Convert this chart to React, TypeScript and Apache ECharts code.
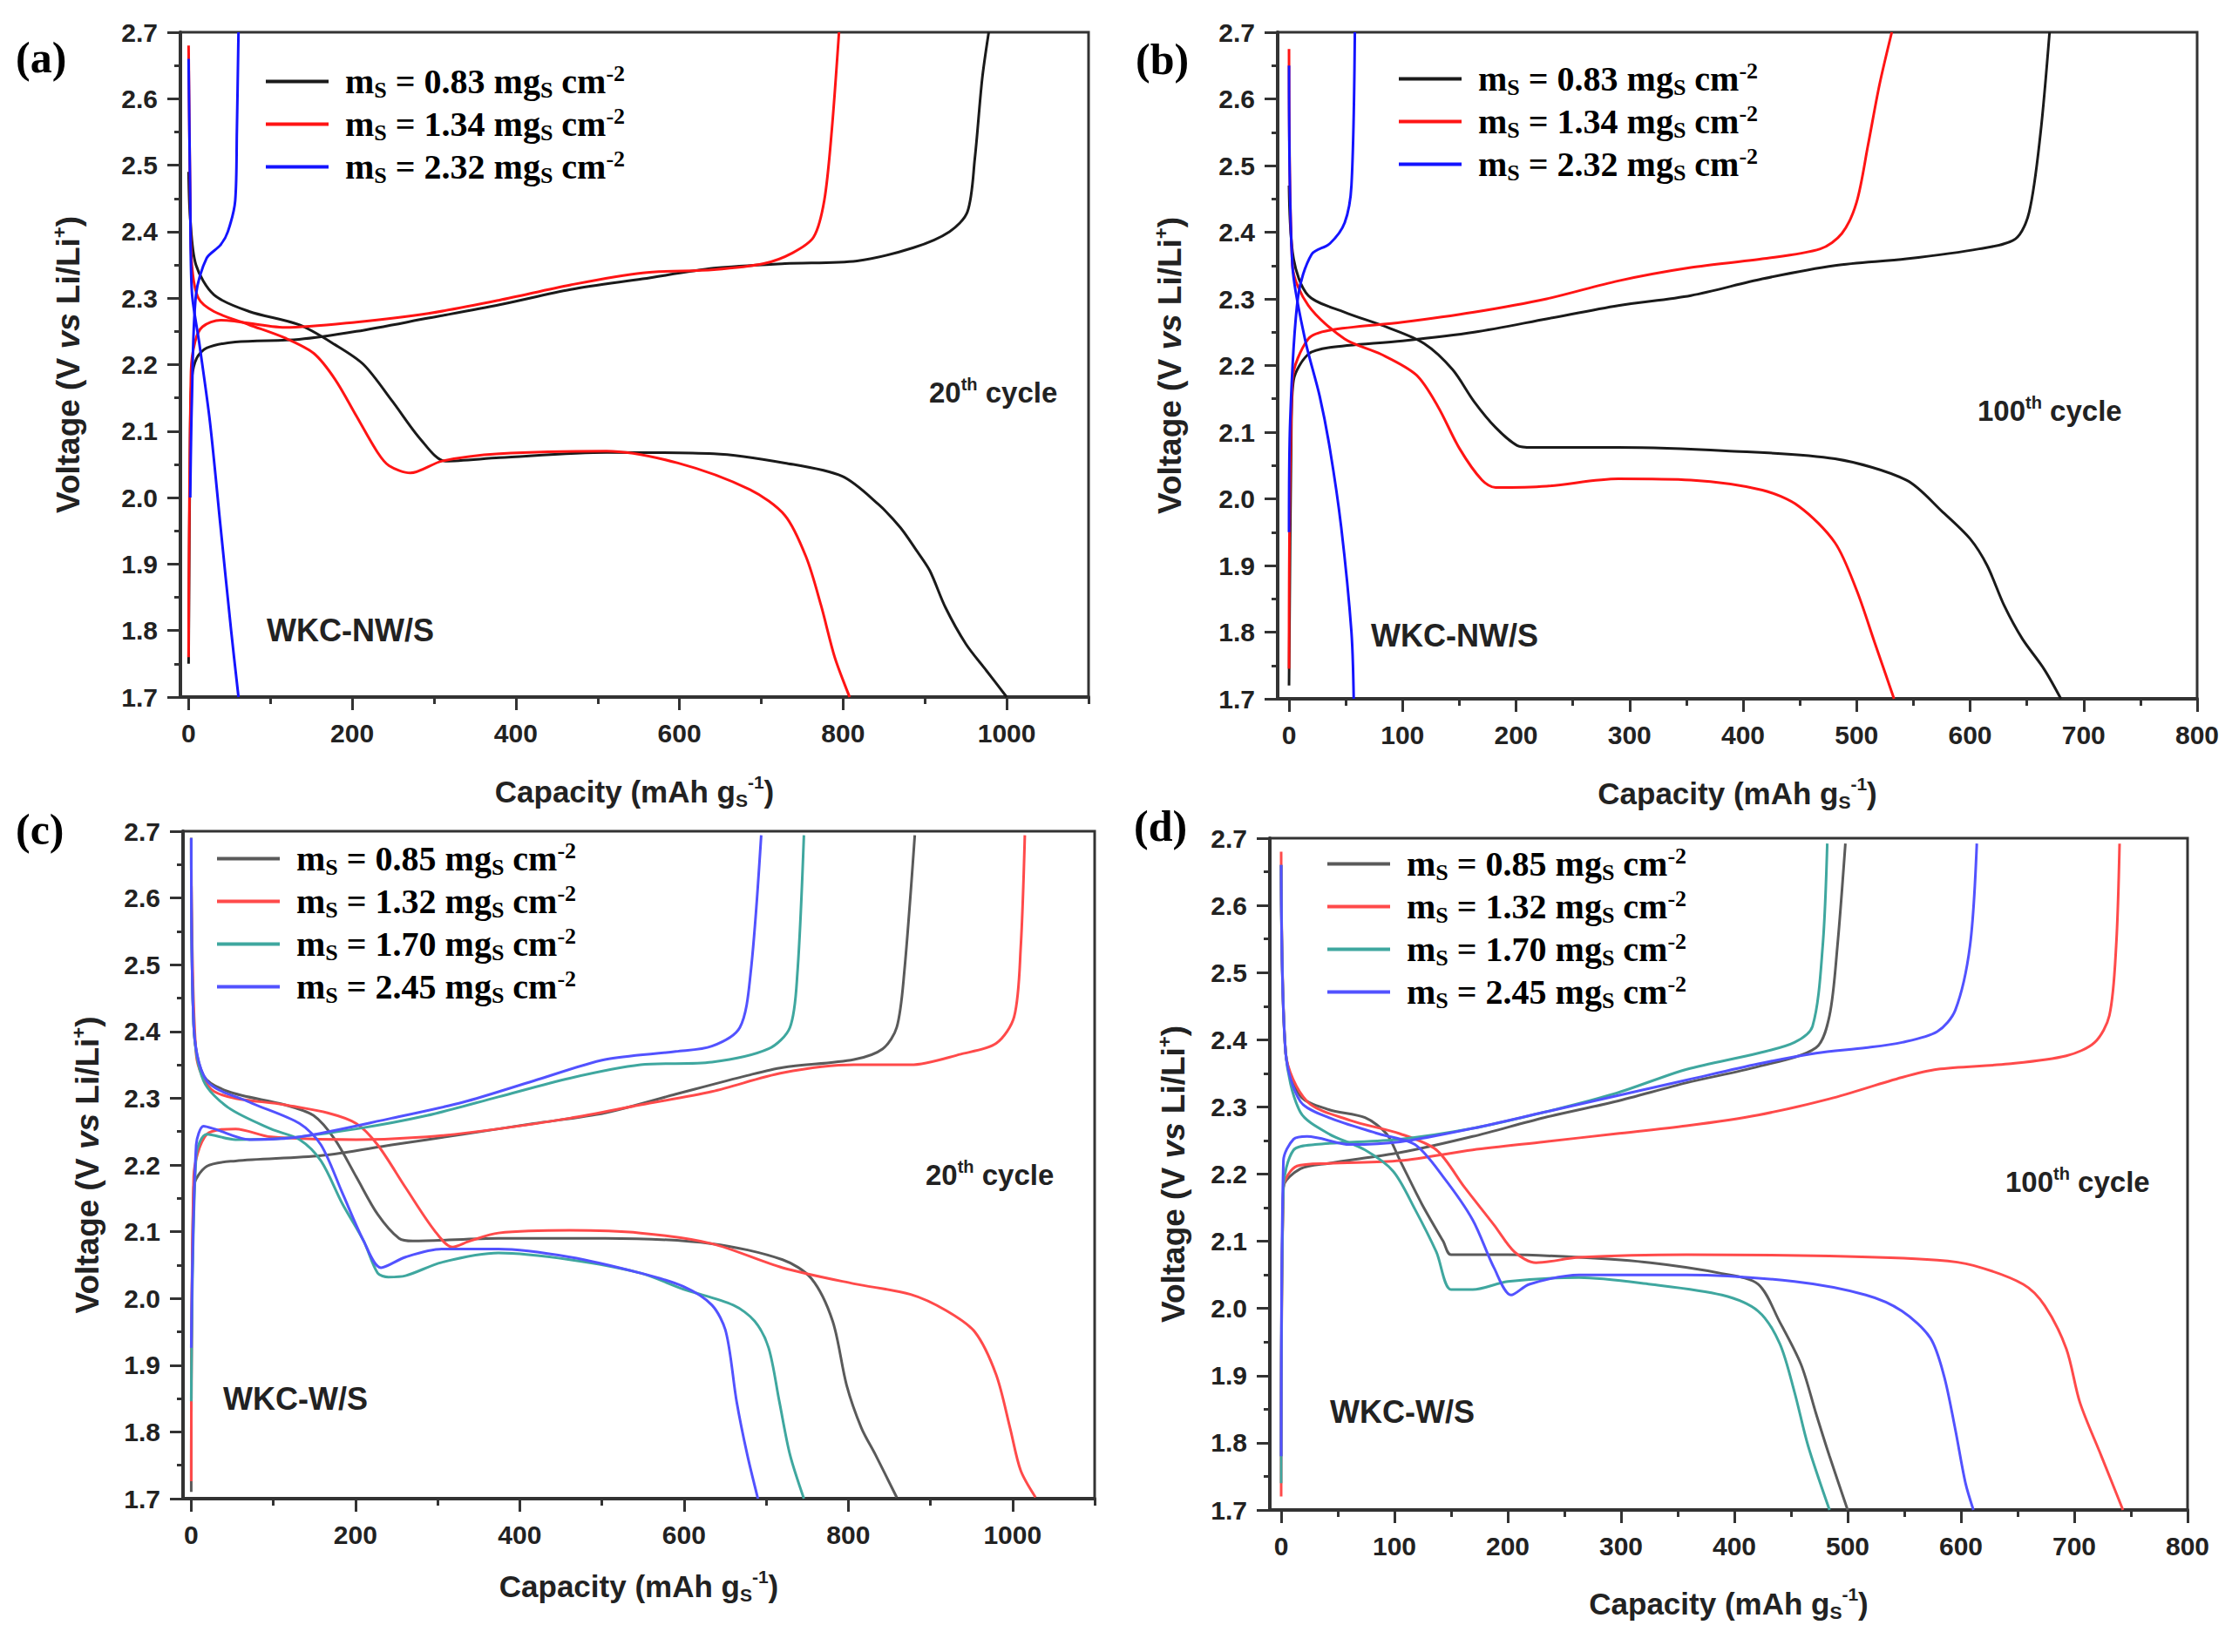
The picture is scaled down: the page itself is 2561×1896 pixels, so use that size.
import { useEffect, useRef } from "react"
import * as echarts from "echarts"

type Pt = [number, number]

// ---------- tick labels ----------
const yTicks = [1.7, 1.8, 1.9, 2.0, 2.1, 2.2, 2.3, 2.4, 2.5, 2.6, 2.7]
const xTicks1000 = [0, 200, 400, 600, 800, 1000]
const xMinor1000 = [100, 300, 500, 700, 900, 1100]
const xTicks800 = [0, 100, 200, 300, 400, 500, 600, 700, 800]
const xMinor800 = [50, 150, 250, 350, 450, 550, 650, 750]

// ---------- sulfur loadings (mg cm-2) ----------
const loadsNW = ["0.83", "1.34", "2.32"]
const loadsW = ["0.85", "1.32", "1.70", "2.45"]

// ---------- (a) WKC-NW/S, 20th cycle ----------
const a083Dis: Pt[] = [[0, 2.49], [2, 2.42], [9, 2.35], [31, 2.305], [74, 2.28], [135, 2.26], [179, 2.23], [214, 2.2], [249, 2.145], [284, 2.087], [314, 2.055], [380, 2.06], [511, 2.068], [642, 2.066], [729, 2.052], [799, 2.032], [843, 1.99], [870, 1.955], [890, 1.92], [906, 1.89], [925, 1.835], [950, 1.78], [975, 1.74], [1000, 1.7]]
const a083Chg: Pt[] = [[0, 1.75], [2, 2.1], [4, 2.18], [10, 2.21], [22, 2.225], [57, 2.234], [135, 2.238], [205, 2.25], [293, 2.27], [380, 2.29], [467, 2.313], [555, 2.329], [642, 2.345], [729, 2.352], [817, 2.356], [886, 2.376], [930, 2.4], [952, 2.43], [961, 2.51], [970, 2.63], [978, 2.7]]
const a134Dis: Pt[] = [[0, 2.68], [2, 2.45], [4, 2.35], [12, 2.3], [31, 2.28], [74, 2.26], [118, 2.24], [153, 2.217], [179, 2.178], [205, 2.123], [231, 2.068], [245, 2.048], [271, 2.037], [310, 2.055], [380, 2.066], [511, 2.07], [598, 2.052], [686, 2.012], [729, 1.973], [755, 1.91], [773, 1.838], [790, 1.759], [808, 1.7]]
const a134Chg: Pt[] = [[0, 1.76], [3, 2.19], [8, 2.235], [17, 2.257], [39, 2.267], [118, 2.256], [205, 2.264], [293, 2.277], [380, 2.297], [467, 2.32], [555, 2.338], [642, 2.343], [703, 2.352], [738, 2.368], [764, 2.392], [777, 2.447], [786, 2.55], [795, 2.7]]
const a232Dis: Pt[] = [[0, 2.66], [2, 2.45], [4, 2.31], [13, 2.233], [26, 2.115], [39, 1.957], [52, 1.8], [61, 1.7]]
const a232Chg: Pt[] = [[2, 2.0], [4, 2.145], [9, 2.305], [22, 2.36], [39, 2.38], [48, 2.4], [57, 2.447], [59, 2.55], [61, 2.7]]

// ---------- (b) WKC-NW/S, 100th cycle ----------
const b083Dis: Pt[] = [[0, 2.47], [4, 2.36], [17, 2.305], [49, 2.28], [87, 2.257], [119, 2.233], [144, 2.194], [163, 2.146], [182, 2.107], [201, 2.08], [214, 2.077], [290, 2.077], [385, 2.072], [481, 2.06], [544, 2.028], [576, 1.98], [600, 1.94], [615, 1.9], [630, 1.84], [646, 1.79], [665, 1.745], [680, 1.7]]
const b083Chg: Pt[] = [[0, 1.72], [2, 2.1], [4, 2.178], [17, 2.217], [36, 2.227], [100, 2.237], [163, 2.25], [227, 2.27], [290, 2.29], [354, 2.305], [417, 2.33], [481, 2.35], [544, 2.36], [608, 2.375], [640, 2.39], [652, 2.43], [662, 2.548], [670, 2.7]]
const b134Dis: Pt[] = [[0, 2.675], [3, 2.35], [17, 2.29], [49, 2.24], [81, 2.217], [112, 2.186], [131, 2.139], [150, 2.076], [170, 2.028], [182, 2.017], [227, 2.019], [290, 2.03], [354, 2.028], [417, 2.013], [449, 1.989], [481, 1.934], [500, 1.863], [516, 1.784], [533, 1.7]]
const b134Chg: Pt[] = [[0, 1.745], [3, 2.178], [17, 2.24], [36, 2.253], [100, 2.265], [163, 2.28], [227, 2.3], [290, 2.327], [354, 2.347], [417, 2.36], [468, 2.375], [487, 2.398], [500, 2.445], [510, 2.53], [520, 2.62], [531, 2.7]]
const b232Dis: Pt[] = [[0, 2.65], [3, 2.35], [14, 2.24], [27, 2.154], [36, 2.075], [46, 1.957], [55, 1.8], [57, 1.7]]
const b232Chg: Pt[] = [[0, 1.95], [1, 2.115], [8, 2.304], [20, 2.367], [36, 2.383], [49, 2.414], [55, 2.47], [58, 2.7]]

// ---------- (c) WKC-W/S, 20th cycle ----------
const c085Dis: Pt[] = [[0, 2.69], [3, 2.41], [15, 2.334], [45, 2.31], [114, 2.29], [149, 2.274], [175, 2.238], [201, 2.182], [227, 2.126], [253, 2.09], [270, 2.086], [374, 2.09], [504, 2.09], [634, 2.082], [720, 2.058], [755, 2.03], [781, 1.966], [798, 1.87], [816, 1.806], [833, 1.766], [859, 1.702]]
const c085Chg: Pt[] = [[0, 1.71], [3, 2.166], [19, 2.198], [54, 2.206], [158, 2.214], [244, 2.23], [331, 2.246], [417, 2.262], [504, 2.278], [590, 2.306], [677, 2.334], [720, 2.346], [807, 2.358], [842, 2.374], [859, 2.406], [868, 2.486], [881, 2.694]]
const c132Dis: Pt[] = [[0, 2.69], [6, 2.366], [28, 2.31], [114, 2.29], [166, 2.278], [201, 2.262], [227, 2.23], [261, 2.166], [296, 2.102], [318, 2.077], [339, 2.086], [374, 2.098], [461, 2.102], [547, 2.098], [634, 2.082], [720, 2.046], [807, 2.022], [876, 2.006], [919, 1.982], [954, 1.95], [980, 1.886], [997, 1.806], [1010, 1.742], [1028, 1.702]]
const c132Chg: Pt[] = [[0, 1.726], [3, 2.182], [19, 2.246], [54, 2.254], [97, 2.242], [201, 2.238], [287, 2.242], [374, 2.254], [461, 2.27], [547, 2.29], [634, 2.31], [720, 2.338], [807, 2.35], [876, 2.35], [937, 2.366], [980, 2.382], [1002, 2.422], [1010, 2.526], [1015, 2.694]]
const c170Dis: Pt[] = [[0, 2.69], [3, 2.41], [15, 2.326], [45, 2.286], [97, 2.254], [132, 2.238], [158, 2.206], [184, 2.142], [210, 2.086], [227, 2.038], [240, 2.032], [261, 2.034], [305, 2.054], [374, 2.068], [461, 2.058], [547, 2.038], [599, 2.014], [660, 1.99], [686, 1.966], [703, 1.926], [716, 1.846], [729, 1.766], [746, 1.7]]
const c170Chg: Pt[] = [[0, 1.846], [6, 2.214], [19, 2.246], [54, 2.238], [114, 2.24], [201, 2.254], [287, 2.274], [374, 2.302], [461, 2.33], [547, 2.35], [634, 2.354], [703, 2.374], [729, 2.406], [738, 2.486], [746, 2.694]]
const c245Dis: Pt[] = [[0, 2.69], [3, 2.41], [19, 2.326], [71, 2.294], [132, 2.262], [158, 2.23], [184, 2.158], [210, 2.086], [231, 2.046], [261, 2.062], [305, 2.074], [374, 2.074], [461, 2.062], [547, 2.038], [599, 2.018], [634, 1.99], [651, 1.95], [664, 1.846], [677, 1.766], [690, 1.7]]
const c245Chg: Pt[] = [[0, 1.926], [6, 2.23], [15, 2.258], [28, 2.254], [71, 2.238], [132, 2.242], [244, 2.27], [331, 2.294], [417, 2.326], [504, 2.358], [590, 2.37], [634, 2.378], [668, 2.406], [681, 2.486], [694, 2.694]]

// ---------- (d) WKC-W/S, 100th cycle ----------
const d085Dis: Pt[] = [[0, 2.66], [4, 2.38], [17, 2.316], [42, 2.296], [74, 2.284], [93, 2.26], [105, 2.22], [124, 2.156], [143, 2.1], [150, 2.08], [200, 2.08], [263, 2.076], [326, 2.068], [389, 2.052], [421, 2.036], [440, 1.98], [459, 1.916], [472, 1.844], [484, 1.78], [500, 1.7]]
const d085Chg: Pt[] = [[0, 1.78], [2, 2.18], [17, 2.208], [42, 2.216], [105, 2.232], [169, 2.256], [232, 2.284], [295, 2.308], [358, 2.336], [421, 2.36], [472, 2.388], [484, 2.436], [491, 2.54], [498, 2.692]]
const d132Dis: Pt[] = [[0, 2.68], [4, 2.38], [23, 2.308], [61, 2.28], [105, 2.26], [137, 2.236], [162, 2.18], [188, 2.124], [206, 2.084], [225, 2.068], [263, 2.076], [358, 2.08], [484, 2.078], [579, 2.072], [611, 2.064], [655, 2.036], [674, 2.004], [693, 1.94], [705, 1.86], [724, 1.78], [743, 1.7]]
const d132Chg: Pt[] = [[0, 1.72], [2, 2.18], [14, 2.212], [42, 2.216], [105, 2.22], [169, 2.236], [232, 2.248], [295, 2.26], [358, 2.272], [421, 2.288], [484, 2.312], [548, 2.344], [579, 2.356], [642, 2.364], [693, 2.376], [718, 2.396], [731, 2.436], [737, 2.54], [740, 2.692]]
const d170Dis: Pt[] = [[0, 2.66], [4, 2.38], [17, 2.292], [42, 2.26], [74, 2.236], [99, 2.204], [118, 2.148], [137, 2.084], [150, 2.028], [169, 2.028], [200, 2.04], [263, 2.046], [326, 2.036], [389, 2.02], [421, 1.996], [440, 1.948], [453, 1.876], [465, 1.796], [484, 1.7]]
const d170Chg: Pt[] = [[0, 1.74], [2, 2.18], [11, 2.236], [30, 2.244], [105, 2.252], [169, 2.268], [232, 2.292], [295, 2.32], [358, 2.356], [421, 2.38], [453, 2.396], [469, 2.42], [478, 2.54], [482, 2.692]]
const d245Dis: Pt[] = [[0, 2.66], [4, 2.38], [17, 2.308], [42, 2.284], [86, 2.26], [118, 2.244], [143, 2.196], [169, 2.132], [188, 2.06], [203, 2.02], [219, 2.036], [263, 2.05], [358, 2.05], [453, 2.04], [516, 2.02], [548, 1.996], [573, 1.956], [585, 1.9], [595, 1.82], [604, 1.74], [611, 1.7]]
const d245Chg: Pt[] = [[0, 1.78], [2, 2.22], [11, 2.252], [23, 2.256], [61, 2.244], [105, 2.248], [169, 2.268], [232, 2.292], [295, 2.316], [358, 2.34], [421, 2.364], [472, 2.38], [516, 2.388], [548, 2.396], [579, 2.412], [595, 2.444], [608, 2.54], [614, 2.692]]

const colorsNW = ["#1a1a1a", "#ff1414", "#1414ff"]
const colorsW = ["#5a5a5a", "#ff4a4a", "#3fa79f", "#5252ff"]

const SANS = "Liberation Sans"
const SERIF = "Liberation Serif"

const panels = [
  {
    key: "a", label: "(a)", labelPos: [18, 66], cycle: "20", cyclePos: [1066, 450], sample: "WKC-NW/S", samplePos: [306, 723],
    grid: { left: 207, top: 37, width: 1042, height: 763 }, xMax: 1100, xTicks: xTicks1000, xMinor: xMinor1000,
    xNameGap: 87, yNameGap: 108, legend: { left: 300, top: 66 },
    loads: loadsNW, colors: colorsNW,
    curves: [[a083Dis, a083Chg], [a134Dis, a134Chg], [a232Dis, a232Chg]],
  },
  {
    key: "b", label: "(b)", labelPos: [1303, 68], cycle: "100", cyclePos: [2269, 471], sample: "WKC-NW/S", samplePos: [1573, 729],
    grid: { left: 1466, top: 37, width: 1055, height: 765 }, xMax: 800, xTicks: xTicks800, xMinor: xMinor800,
    xNameGap: 87, yNameGap: 103, legend: { left: 1600, top: 63 },
    loads: loadsNW, colors: colorsNW,
    curves: [[b083Dis, b083Chg], [b134Dis, b134Chg], [b232Dis, b232Chg]],
  },
  {
    key: "c", label: "(c)", labelPos: [18, 952], cycle: "20", cyclePos: [1062, 1348], sample: "WKC-W/S", samplePos: [256, 1605],
    grid: { left: 210, top: 954, width: 1046, height: 766 }, xMax: 1100, xTicks: xTicks1000, xMinor: xMinor1000,
    xNameGap: 79, yNameGap: 89, legend: { left: 244, top: 958 },
    loads: loadsW, colors: colorsW,
    curves: [[c085Dis, c085Chg], [c132Dis, c132Chg], [c170Dis, c170Chg], [c245Dis, c245Chg]],
  },
  {
    key: "d", label: "(d)", labelPos: [1301, 948], cycle: "100", cyclePos: [2301, 1356], sample: "WKC-W/S", samplePos: [1526, 1620],
    grid: { left: 1457, top: 962, width: 1053, height: 771 }, xMax: 800, xTicks: xTicks800, xMinor: xMinor800,
    xNameGap: 86, yNameGap: 90, legend: { left: 1518, top: 964 },
    loads: loadsW, colors: colorsW,
    curves: [[d085Dis, d085Chg], [d132Dis, d132Chg], [d170Dis, d170Chg], [d245Dis, d245Chg]],
  },
]

const axisColor = "#333"

const legendRich = {
  m: { fontFamily: SERIF, fontWeight: "bold", fontSize: 40, lineHeight: 45, color: "#000" },
  s: { fontFamily: SERIF, fontWeight: "bold", fontSize: 26, lineHeight: 26, verticalAlign: "bottom", color: "#000" },
  p: { fontFamily: SERIF, fontWeight: "bold", fontSize: 26, lineHeight: 26, verticalAlign: "top", color: "#000" },
}

export default function App() {
  const chartRef = useRef<HTMLDivElement>(null)

  useEffect(() => {
    if (!chartRef.current) return
    const chart = echarts.init(chartRef.current, null, { renderer: "svg" })

    const grid: any[] = []
    const xAxis: any[] = []
    const yAxis: any[] = []
    const series: any[] = []
    const legend: any[] = []
    const graphic: any[] = []

    panels.forEach((p, i) => {
      grid.push({ ...p.grid, show: true, borderColor: axisColor, borderWidth: 3, backgroundColor: "transparent" })

      xAxis.push({
        type: "value",
        gridIndex: i,
        min: -10,
        max: p.xMax,
        position: "bottom",
        axisLine: { show: true, onZero: false, lineStyle: { color: axisColor, width: 4 } },
        axisTick: { show: true, inside: false, length: 15, lineStyle: { color: axisColor, width: 3 }, customValues: p.xTicks },
        axisLabel: {
          customValues: p.xTicks,
          margin: 26,
          fontSize: 30,
          fontWeight: "bold",
          fontFamily: SANS,
          color: "#222",
          formatter: (v: number) => String(v),
        },
        splitLine: { show: false },
        name: "Capacity (mAh g{s|S}{p|-1})",
        nameLocation: "middle",
        nameGap: p.xNameGap,
        nameTextStyle: {
          fontSize: 35,
          fontWeight: "bold",
          fontFamily: SANS,
          color: "#222",
          lineHeight: 42,
          rich: {
            s: { fontSize: 21, lineHeight: 21, fontWeight: "bold", fontFamily: SANS, color: "#222", verticalAlign: "bottom" },
            p: { fontSize: 21, lineHeight: 21, fontWeight: "bold", fontFamily: SANS, color: "#222", verticalAlign: "top" },
          },
        },
      })
      // minor ticks only
      xAxis.push({
        type: "value",
        gridIndex: i,
        min: -10,
        max: p.xMax,
        position: "bottom",
        axisLine: { show: false },
        axisTick: { show: true, inside: false, length: 8, lineStyle: { color: axisColor, width: 3 }, customValues: p.xMinor },
        axisLabel: { show: false },
        splitLine: { show: false },
      })

      yAxis.push({
        type: "value",
        gridIndex: i,
        min: 1.7,
        max: 2.7,
        interval: 0.1,
        axisLine: { show: true, onZero: false, lineStyle: { color: axisColor, width: 4 } },
        axisTick: { show: true, inside: false, length: 15, lineStyle: { color: axisColor, width: 3 } },
        minorTick: { show: true, splitNumber: 2, length: 7, lineStyle: { color: axisColor, width: 3 } },
        axisLabel: {
          margin: 26,
          fontSize: 30,
          fontWeight: "bold",
          fontFamily: SANS,
          color: "#222",
          formatter: (v: number) => {
            const hit = yTicks.find((t) => Math.abs(t - v) < 1e-6)
            return hit === undefined ? "" : hit.toFixed(1)
          },
        },
        splitLine: { show: false },
        minorSplitLine: { show: false },
        name: "Voltage (V {i|vs} Li/Li{p|+})",
        nameLocation: "middle",
        nameGap: p.yNameGap,
        nameRotate: 90,
        nameTextStyle: {
          fontSize: 37,
          fontWeight: "bold",
          fontFamily: SANS,
          color: "#222",
          lineHeight: 42,
          rich: {
            i: { fontSize: 37, lineHeight: 42, fontWeight: "bold", fontStyle: "italic", fontFamily: SANS, color: "#222" },
            p: { fontSize: 22, lineHeight: 22, fontWeight: "bold", fontFamily: SANS, color: "#222", verticalAlign: "top" },
          },
        },
      })

      const names: string[] = []
      p.curves.forEach((pair, j) => {
        const name = `${p.key}|${p.loads[j]}`
        names.push(name)
        pair.forEach((data) => {
          series.push({
            type: "line",
            name,
            xAxisIndex: i * 2,
            yAxisIndex: i,
            data,
            showSymbol: false,
            smooth: 0.3,
            silent: true,
            lineStyle: { width: 3, color: p.colors[j] },
            itemStyle: { color: p.colors[j] },
          })
        })
      })

      legend.push({
        data: names,
        orient: "vertical",
        left: p.legend.left,
        top: p.legend.top,
        icon: "rect",
        itemWidth: 72,
        itemHeight: 4,
        itemGap: 4,
        selectedMode: false,
        formatter: (name: string) => {
          const load = name.split("|")[1]
          return `{m|m}{s|S}{m| = ${load} mg}{s|S}{m| cm}{p|-2}`
        },
        textStyle: { fontFamily: SERIF, fontWeight: "bold", fontSize: 40, color: "#000", padding: [0, 0, 0, 14], rich: legendRich },
      })

      graphic.push(
        {
          type: "text",
          x: p.labelPos[0],
          y: p.labelPos[1],
          style: { text: p.label, font: `bold 50px "${SERIF}"`, fill: "#000", verticalAlign: "middle" },
        },
        {
          type: "text",
          x: p.cyclePos[0],
          y: p.cyclePos[1],
          style: {
            text: `{n|${p.cycle}}{p|th}{n| cycle}`,
            verticalAlign: "middle",
            rich: {
              n: { font: `bold 33px "${SANS}"`, fill: "#222", lineHeight: 38 },
              p: { font: `bold 20px "${SANS}"`, fill: "#222", lineHeight: 20, verticalAlign: "top" },
            },
          },
        },
        {
          type: "text",
          x: p.samplePos[0],
          y: p.samplePos[1],
          style: { text: p.sample, font: `bold 36px "${SANS}"`, fill: "#222", verticalAlign: "middle" },
        }
      )
    })

    chart.setOption({
      animation: false,
      backgroundColor: "#fff",
      grid,
      xAxis,
      yAxis,
      legend,
      series,
      graphic,
    })

    return () => {
      chart.dispose()
    }
  }, [])

  return <div ref={chartRef} style={{ position: "absolute", left: 0, top: 0, width: 2561, height: 1896 }} />
}
